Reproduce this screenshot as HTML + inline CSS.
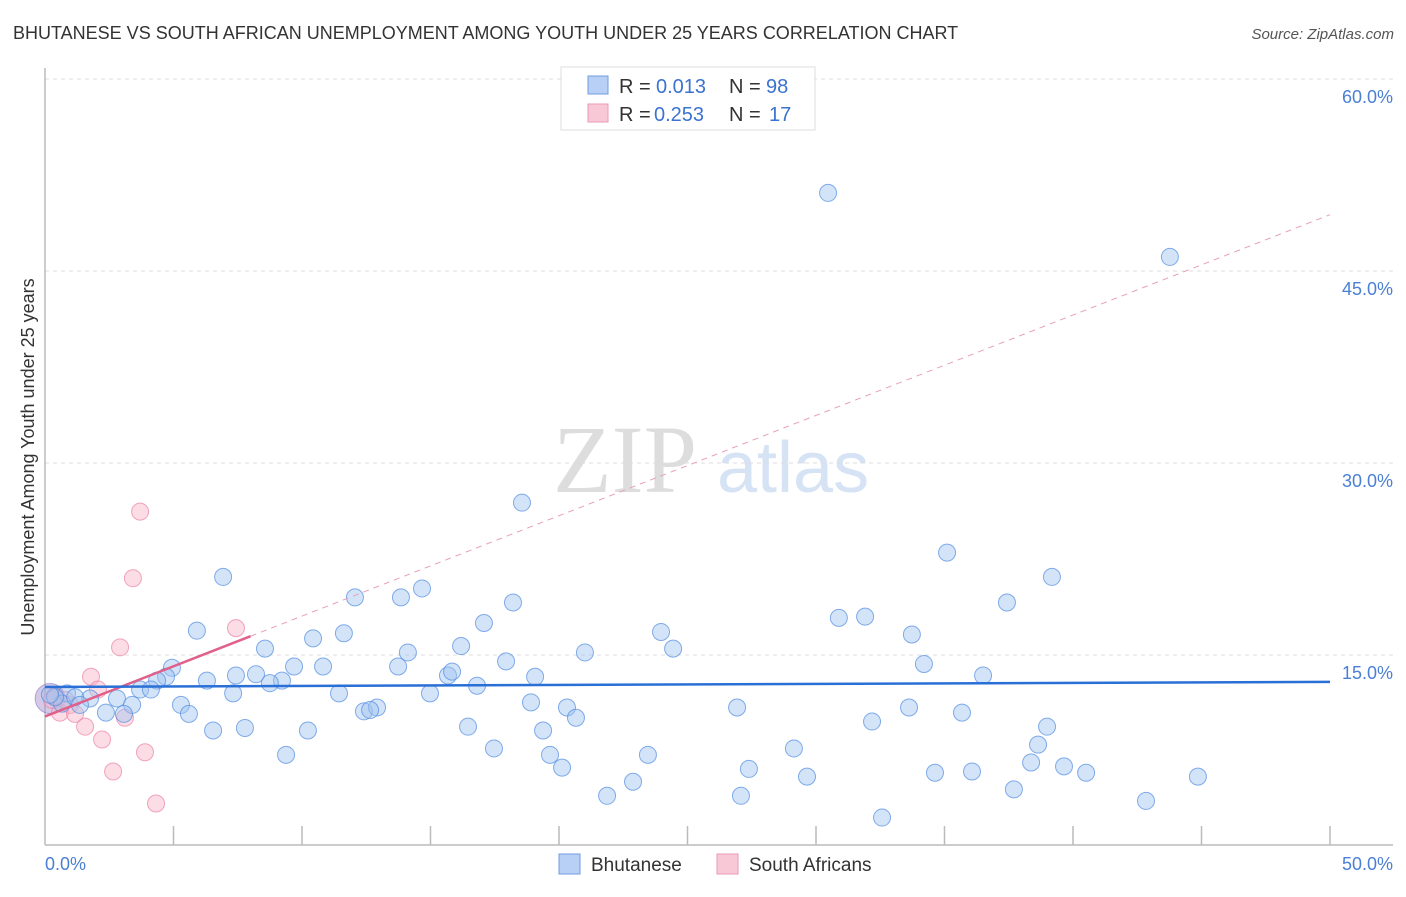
<!DOCTYPE html>
<html><head><meta charset="utf-8"><style>
body{margin:0;background:#fff;font-family:"Liberation Sans",sans-serif;}
</style></head><body>
<svg id="chart" width="1406" height="892" xmlns="http://www.w3.org/2000/svg" font-family="Liberation Sans, sans-serif">
<text x="13" y="39" font-size="18" fill="#333">BHUTANESE VS SOUTH AFRICAN UNEMPLOYMENT AMONG YOUTH UNDER 25 YEARS CORRELATION CHART</text>
<text x="1394" y="39" font-size="15" fill="#555" text-anchor="end" font-style="italic">Source: ZipAtlas.com</text>
<text x="553" y="492" font-size="96" fill="#ddd" style="font-family:'Liberation Serif',serif">ZIP</text>
<text x="717" y="492" font-size="72" fill="#d5e3f5">atlas</text>
<g id="grid"></g>
<line x1="45" y1="68" x2="45" y2="845" stroke="#bbb" stroke-width="1.5"/>
<line x1="45" y1="845" x2="1393" y2="845" stroke="#bbb" stroke-width="1.5"/>
<g id="ticks"></g>
<text transform="translate(34,457) rotate(-90)" font-size="18" fill="#333" text-anchor="middle">Unemployment Among Youth under 25 years</text>
<text x="45" y="870" font-size="18" fill="#4a7fd4">0.0%</text>
<text x="1393" y="870" font-size="18" fill="#4a7fd4" text-anchor="end">50.0%</text>
<g id="points"></g>
<g id="lines"></g>
<g font-size="20">
<rect x="561" y="67" width="254" height="63" fill="#fff" stroke="#ddd"/>
<rect x="588" y="76" width="20" height="18" fill="#b8d0f5" stroke="#6f9de0"/>
<rect x="588" y="104" width="20" height="18" fill="#f9c8d6" stroke="#ea9ab3"/>
<text x="619" y="93" fill="#333">R =</text><text x="656" y="93" fill="#3b73d0">0.013</text>
<text x="729" y="93" fill="#333">N =</text><text x="766" y="93" fill="#3b73d0">98</text>
<text x="619" y="121" fill="#333">R =</text><text x="654" y="121" fill="#3b73d0">0.253</text>
<text x="729" y="121" fill="#333">N =</text><text x="769" y="121" fill="#3b73d0">17</text>
</g>
<g>
<rect x="559" y="854" width="21" height="20" fill="#b8d0f5" stroke="#6f9de0"/>
<text x="591" y="871" font-size="19" fill="#333">Bhutanese</text>
<rect x="717" y="854" width="21" height="20" fill="#f9c8d6" stroke="#ea9ab3"/>
<text x="749" y="871" font-size="19" fill="#333">South Africans</text>
</g>
</svg>
<script>
const yTicks=[15,30,45,60];
const yTickLabels=["15.0%","30.0%","45.0%","60.0%"];
const xTicks=[5,10,15,20,25,30,35,40,45,50];
const blueX=[30.47,43.77,18.56,35.1,6.93,39.18,14.67,12.06,13.85,18.21,37.43,30.89,31.91,5.91,17.08,23.97,33.73,11.63,10.43,16.19,24.44,21.01,14.12,8.56,9.69,10.82,34.2,13.74,4.94,17.94,7.43,8.21,15.68,15.84,4.71,19.07,36.5,4.36,6.3,9.22,8.75,16.81,3.7,4.12,7.32,11.44,14.98,0.86,1.75,2.8,0.66,5.29,18.91,26.93,33.62,12.41,12.92,12.65,20.31,3.39,2.37,3.07,5.6,35.68,20.66,32.18,7.78,6.54,10.23,16.46,19.38,38.99,38.64,17.47,29.14,23.46,19.65,9.38,38.37,20.12,27.39,39.65,29.65,34.63,36.07,40.51,44.86,22.88,37.7,21.87,27.08,42.84,32.57,0.39,0.19,1.17,1.36];
const blueY=[51.1,46.1,26.9,23.0,21.1,21.1,20.2,19.5,19.5,19.1,19.1,17.9,18.0,16.9,17.5,16.8,16.6,16.7,16.3,15.7,15.5,15.2,15.2,15.5,14.1,14.1,14.3,14.1,14.0,14.5,13.4,13.5,13.4,13.7,13.3,13.3,13.4,13.0,13.0,13.0,12.8,12.6,12.3,12.3,12.0,12.0,12.0,12.0,11.6,11.6,11.2,11.1,11.3,10.9,10.9,10.6,10.9,10.7,10.9,11.1,10.5,10.4,10.4,10.5,10.1,9.8,9.3,9.1,9.1,9.4,9.1,9.4,8.0,7.7,7.7,7.2,7.2,7.2,6.6,6.2,6.1,6.3,5.5,5.8,5.9,5.8,5.5,5.1,4.5,4.0,4.0,3.6,2.3,11.7,11.9,11.7,11.1];
const pinkX=[3.7,3.42,7.43,2.92,1.79,2.06,0.97,0.58,1.17,1.56,2.22,3.11,3.89,2.65,4.32,0.27,0.78,0.39];
const pinkY=[26.2,21.0,17.1,15.6,13.3,12.3,11.1,10.5,10.4,9.4,8.4,10.1,7.4,5.9,3.4,11.5,11.5,11.8];
const blueTrend=[12.5,12.9];
const pinkTrend=[10.2,49.4];
const pinkSolidEnd=8.0;
const NS="http://www.w3.org/2000/svg";
const sx=v=>45+v/50*1285;
const sy=v=>847-v/15*192;
function mk(t,a,p){const e=document.createElementNS(NS,t);for(const k in a)e.setAttribute(k,a[k]);p.appendChild(e);return e;}
const grid=document.getElementById('grid'),ticks=document.getElementById('ticks');
yTicks.forEach((v,i)=>{
 const l=mk('line',{x1:45,x2:1393,y1:sy(v),y2:sy(v),stroke:'#ddd','stroke-dasharray':'4,4'},grid);
 
 
 const t=mk('text',{x:1393,y:sy(v)+24,'font-size':18,fill:'#4a7fd4','text-anchor':'end'},ticks);
 t.textContent=yTickLabels[i];
 
 
});
xTicks.forEach(v=>{
 const l=mk('line',{x1:sx(v),x2:sx(v),y1:826,y2:845,stroke:'#bbb','stroke-width':1.5},ticks);
 
 
});
const pts=document.getElementById('points');
const big=mk('circle',{cx:sx(0.2),cy:sy(11.6),r:15,fill:'rgba(170,150,210,0.5)',stroke:'rgba(140,120,200,0.6)'},pts);


pinkX.forEach((x,i)=>{
 const c=mk('circle',{cx:sx(x),cy:sy(pinkY[i]),r:8.5,fill:'rgba(248,180,200,0.45)',stroke:'rgba(235,130,165,0.7)'},pts);
 
 
});
blueX.forEach((x,i)=>{
 const c=mk('circle',{cx:sx(x),cy:sy(blueY[i]),r:8.5,fill:'rgba(160,195,240,0.45)',stroke:'rgba(80,140,225,0.7)'},pts);
 
 
});
const ln=document.getElementById('lines');
const pf=x=>pinkTrend[0]+(pinkTrend[1]-pinkTrend[0])*x/50;
const d=mk('line',{x1:sx(pinkSolidEnd),y1:sy(pf(pinkSolidEnd)),x2:sx(50),y2:sy(pinkTrend[1]),stroke:'#e7a0b8','stroke-dasharray':'6,5','stroke-width':1},ln);


const s=mk('line',{x1:sx(0),y1:sy(pinkTrend[0]),x2:sx(pinkSolidEnd),y2:sy(pf(pinkSolidEnd)),stroke:'#e0608a','stroke-width':2.5},ln);


const b=mk('line',{x1:sx(0),y1:sy(blueTrend[0]),x2:sx(50),y2:sy(blueTrend[1]),stroke:'#2a6fd6','stroke-width':2.5},ln);


</script>
</body></html>
